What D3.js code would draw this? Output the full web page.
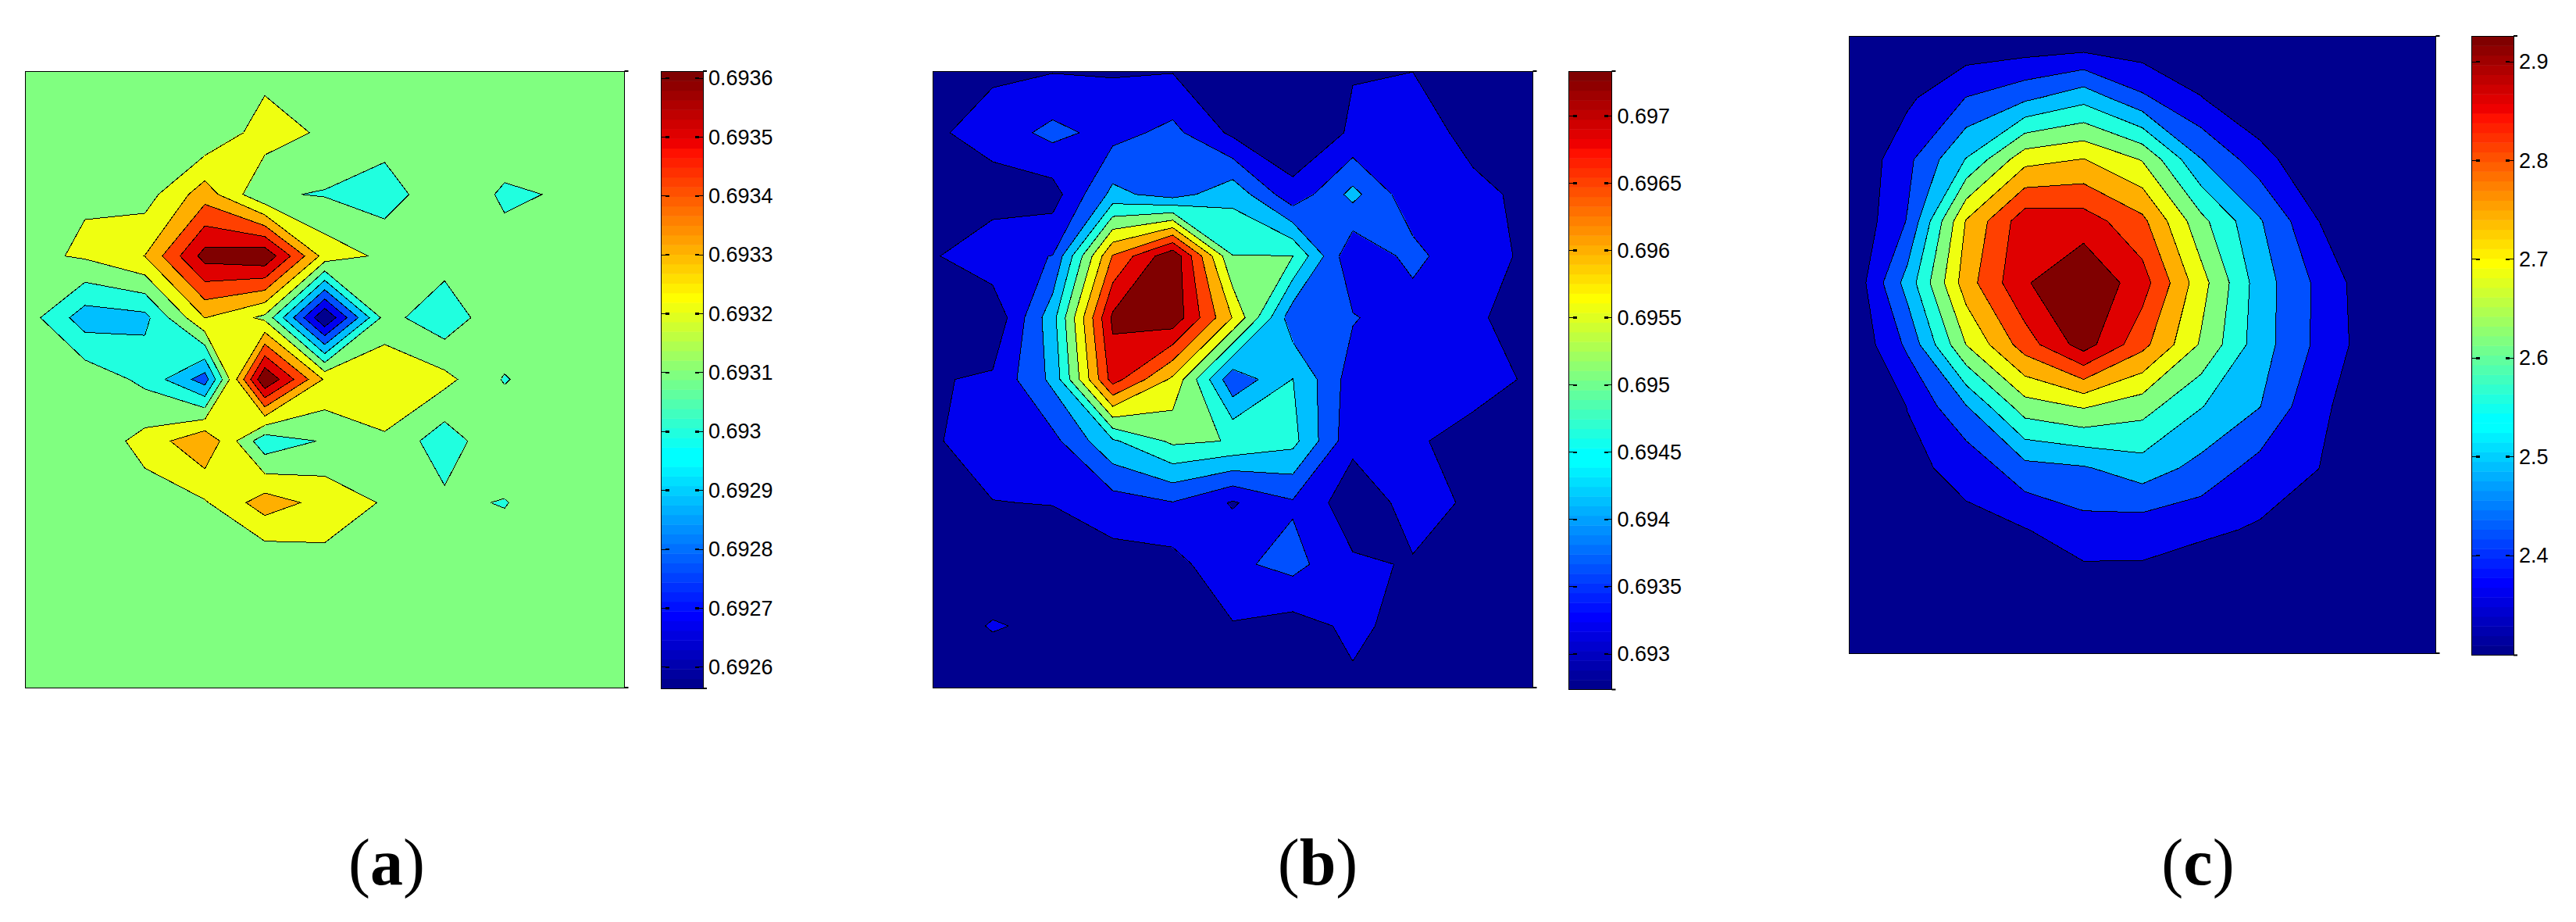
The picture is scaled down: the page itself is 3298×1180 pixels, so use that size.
<!DOCTYPE html>
<html>
<head>
<meta charset="utf-8">
<title>contour panels</title>
<script src="https://cdn.jsdelivr.net/npm/d3@7"></script>
<style>
  body { margin: 0; background: #fff; }
</style>
</head>
<body>
<div id="dataviz"></div>
<script>
// panel (a)
const aValues = [
  [0.69314, 0.69314, 0.69314, 0.69315, 0.693167, 0.69315, 0.69314, 0.69314, 0.69314, 0.69314, 0.69314],
  [0.69314, 0.69315, 0.69314, 0.69311, 0.69325, 0.693183, 0.693147, 0.69314, 0.693164, 0.69314, 0.69314],
  [0.69316, 0.693191, 0.693155, 0.693354, 0.693111, 0.693093, 0.693049, 0.693175, 0.693085, 0.693109, 0.69313],
  [0.693174, 0.693213, 0.693302, 0.69364, 0.69368, 0.69326, 0.693177, 0.693147, 0.693135, 0.69314, 0.69314],
  [0.693153, 0.692947, 0.69297, 0.693302, 0.693176, 0.6926, 0.693137, 0.69303, 0.69319, 0.69315, 0.69314],
  [0.69315, 0.69317, 0.693075, 0.69285, 0.6937, 0.693287, 0.693282, 0.69323, 0.693091, 0.69319, 0.69314],
  [0.69314, 0.693128, 0.693234, 0.69339, 0.69303, 0.693111, 0.693185, 0.69304, 0.693195, 0.69315, 0.69314],
  [0.69314, 0.69314, 0.693157, 0.69319, 0.69335, 0.693267, 0.69319, 0.693123, 0.693093, 0.69319, 0.69314],
  [0.69314, 0.69314, 0.69314, 0.69316, 0.69311, 0.693164, 0.69315, 0.69314, 0.69317, 0.69314, 0.69314],
  [0.69314, 0.69314, 0.69314, 0.69314, 0.69314, 0.69314, 0.69314, 0.69314, 0.69314, 0.69314, 0.69314],
  [0.69314, 0.69314, 0.69314, 0.69314, 0.69314, 0.69314, 0.69314, 0.69314, 0.69314, 0.69314, 0.69314]
];
const aLevels = [0.6926, 0.6927, 0.6928, 0.6929, 0.693, 0.6931, 0.6932, 0.6933, 0.6934, 0.6935, 0.6936];
const aBarRange = [0.692564, 0.693612];
const aTicks = [0.6926, 0.6927, 0.6928, 0.6929, 0.693, 0.6931, 0.6932, 0.6933, 0.6934, 0.6935, 0.6936];
const aTickLabels = ["0.6926", "0.6927", "0.6928", "0.6929", "0.693", "0.6931", "0.6932", "0.6933", "0.6934", "0.6935", "0.6936"];

// panel (b)
const bValues = [
  [0.693006, 0.693112, 0.693167, 0.693153, 0.693167, 0.693052, 0.69296, 0.693172, 0.693185, 0.693052, 0.69296],
  [0.693103, 0.693402, 0.693779, 0.693489, 0.693779, 0.693093, 0.692845, 0.69325, 0.693558, 0.692955, 0.692914],
  [0.69296, 0.692951, 0.692983, 0.694239, 0.693903, 0.694432, 0.693328, 0.694248, 0.693328, 0.693374, 0.693006],
  [0.693139, 0.693535, 0.693659, 0.696442, 0.697698, 0.695039, 0.695039, 0.693236, 0.693806, 0.693236, 0.693167],
  [0.693098, 0.692799, 0.694395, 0.697422, 0.697652, 0.695927, 0.693802, 0.693687, 0.693374, 0.693259, 0.692992],
  [0.693149, 0.693259, 0.694225, 0.697077, 0.695858, 0.693756, 0.694579, 0.69342, 0.693466, 0.693466, 0.693093],
  [0.693149, 0.693374, 0.693512, 0.694501, 0.695122, 0.695007, 0.694717, 0.693305, 0.693282, 0.692942, 0.692914],
  [0.693006, 0.693181, 0.693204, 0.693443, 0.693632, 0.693144, 0.693595, 0.692914, 0.693351, 0.693126, 0.69296],
  [0.69296, 0.692942, 0.692914, 0.693006, 0.69302, 0.693553, 0.693802, 0.693259, 0.693158, 0.693052, 0.69296],
  [0.692988, 0.693218, 0.693112, 0.692868, 0.692914, 0.693158, 0.693006, 0.693282, 0.693034, 0.69296, 0.692914],
  [0.692914, 0.692942, 0.692914, 0.692868, 0.692868, 0.692868, 0.692914, 0.693121, 0.69296, 0.692914, 0.692868]
];
const bLevels = [0.69273, 0.69319, 0.69365, 0.69411, 0.69457, 0.69503, 0.69549, 0.69595, 0.69641, 0.69687, 0.69733];
const bBarRange = [0.692736, 0.697334];
const bTicks = [0.693, 0.6935, 0.694, 0.6945, 0.695, 0.6955, 0.696, 0.6965, 0.697];
const bTickLabels = ["0.693", "0.6935", "0.694", "0.6945", "0.695", "0.6955", "0.696", "0.6965", "0.697"];

// panel (c)
const cValues = [
  [2.3, 2.3, 2.305, 2.3031, 2.3031, 2.3063, 2.3063, 2.3, 2.3, 2.3, 2.3],
  [2.3, 2.3494, 2.4263, 2.4731, 2.5269, 2.4356, 2.3644, 2.3013, 2.3, 2.3, 2.3],
  [2.3, 2.4094, 2.5531, 2.7156, 2.7394, 2.6706, 2.4894, 2.3906, 2.3013, 2.3, 2.3],
  [2.3, 2.4288, 2.7425, 2.9, 2.8938, 2.8163, 2.6313, 2.4938, 2.3631, 2.3063, 2.3],
  [2.3013, 2.5125, 2.7719, 2.9188, 2.9813, 2.8906, 2.7, 2.5188, 2.4106, 2.3106, 2.3],
  [2.3, 2.4375, 2.6763, 2.8313, 2.9544, 2.82, 2.6675, 2.5156, 2.4106, 2.3188, 2.3063],
  [2.3, 2.3638, 2.4844, 2.6469, 2.6813, 2.6388, 2.5531, 2.4894, 2.3719, 2.3313, 2.3031],
  [2.3, 2.35, 2.3781, 2.4656, 2.4813, 2.5219, 2.4669, 2.4013, 2.3631, 2.3125, 2.3],
  [2.3, 2.3063, 2.3488, 2.3594, 2.4, 2.3875, 2.3756, 2.355, 2.3313, 2.3, 2.3],
  [2.3, 2.3, 2.3156, 2.3188, 2.3263, 2.3375, 2.3063, 2.3, 2.3, 2.3, 2.3],
  [2.3, 2.3, 2.3063, 2.3094, 2.3125, 2.3188, 2.3031, 2.3, 2.3, 2.3, 2.3]
];
const cLevels = [2.3, 2.3625, 2.425, 2.4875, 2.55, 2.6125, 2.675, 2.7375, 2.8, 2.8625, 2.925];
const cBarRange = [2.2991, 2.9263];
const cTicks = [2.4, 2.5, 2.6, 2.7, 2.8, 2.9];
const cTickLabels = ["2.4", "2.5", "2.6", "2.7", "2.8", "2.9"];

const captions = ["a", "b", "c"];

// which row of the 64 colour map each contour band takes
const bandRows = [0, 6, 12, 19, 26, 32, 39, 45, 52, 57, 63];

// matlab jet(64), i is 0 based
function jet(i) {
  const clamp = d3.scaleLinear().domain([0, 1]).range([0, 255]).clamp(true);
  let r = i < 56 ? (i - 24) / 16 : (71 - i) / 16;
  let g = i < 24 ? (i - 7) / 16 : (56 - i) / 16;
  let b = i < 25 ? (i + 9) / 16 : (40 - i) / 16;
  return d3.rgb(clamp(r), clamp(g), clamp(b)).formatHex();
}

// saddle cells whose mean is over the level: d3.contours cuts the two high corners off,
// the reference keeps them joined. Returns the crossing points of each such cell.
function joinedSaddles(values, level) {
  let out = [];
  for (let r = 0; r < values.length - 1; r++) {
    for (let c = 0; c < values[r].length - 1; c++) {
      let tl = values[r][c], tr = values[r][c + 1], bl = values[r + 1][c], br = values[r + 1][c + 1];
      let a = tl >= level, b = tr >= level, e = bl >= level, f = br >= level;
      if (a !== f || b !== e || a === b) continue;
      if ((tl + tr + bl + br) / 4 < level) continue;
      let top = [c + (level - tl) / (tr - tl), r];
      let bottom = [c + (level - bl) / (br - bl), r + 1];
      let left = [c, r + (level - tl) / (bl - tl)];
      let right = [c + 1, r + (level - tr) / (br - tr)];
      out.push({
        quad: [top, right, bottom, left],
        edges: a ? [[top, right], [bottom, left]] : [[top, left], [bottom, right]]
      });
    }
  }
  return out;
}

const svg = d3.select("#dataviz").append("svg").attr("width", 3298).attr("height", 1180)
  .style("display", "block");

function drawPanel(id, box, bar, values, levels, barRange, ticks, tickLabels) {
  let x = d3.scaleLinear().domain([0.5, 10.5]).range([box.x0, box.x1]);
  let y = d3.scaleLinear().domain([0.5, 10.5]).range([box.y0, box.y1]);

  svg.append("clipPath").attr("id", "clip" + id).append("rect")
    .attr("x", box.x0).attr("y", box.y0)
    .attr("width", box.x1 - box.x0).attr("height", box.y1 - box.y0);

  let g = svg.append("g");
  let plot = g.append("g").attr("clip-path", "url(#clip" + id + ")");

  let contours = d3.contours().size([11, 11]).thresholds(levels)(values.flat());
  let path = d3.geoPath(d3.geoTransform({
    point: function (px, py) { this.stream.point(x(px), y(py)); }
  }));
  // saddle points are in node units, contour rings sit half a cell over
  let nodeLine = d3.line()
    .x(function (d) { return x(d[0] + 0.5); })
    .y(function (d) { return y(d[1] + 0.5); });

  plot.append("rect")
    .attr("x", box.x0).attr("y", box.y0)
    .attr("width", box.x1 - box.x0).attr("height", box.y1 - box.y0)
    .attr("fill", jet(bandRows[0]));

  contours.forEach(function (contour, i) {
    let colour = jet(bandRows[i]);
    plot.append("path")
      .attr("d", path(contour))
      .attr("fill", colour)
      .attr("stroke", "#000")
      .attr("stroke-width", 1)
      .attr("shape-rendering", "crispEdges");

    joinedSaddles(values, levels[i]).forEach(function (s) {
      plot.append("path")
        .attr("d", nodeLine(s.quad) + "Z")
        .attr("fill", colour)
        .attr("stroke", colour)
        .attr("stroke-width", 2)
        .attr("shape-rendering", "crispEdges");
      s.edges.forEach(function (e) {
        plot.append("path")
          .attr("d", nodeLine(e))
          .attr("fill", "none")
          .attr("stroke", "#000")
          .attr("stroke-width", 1)
          .attr("shape-rendering", "crispEdges");
      });
    });
  });

  // frame and the little corner ticks matlab leaves on an axes with no labels
  g.append("rect")
    .attr("x", box.x0).attr("y", box.y0)
    .attr("width", box.x1 - box.x0).attr("height", box.y1 - box.y0)
    .attr("fill", "none").attr("stroke", "#000").attr("shape-rendering", "crispEdges");
  [box.y0, box.y1].forEach(function (cy) {
    g.append("line").attr("x1", box.x1).attr("x2", box.x1 + 5).attr("y1", cy).attr("y2", cy)
      .attr("stroke", "#000").attr("stroke-width", 2);
  });

  // colour bar
  let rows = d3.range(64);
  let barBand = d3.scaleBand().domain(rows).range([bar.y1, bar.y0]);
  g.selectAll(".cell").data(rows).join("rect")
    .attr("class", "cell")
    .attr("x", bar.x0)
    .attr("y", function (d) { return barBand(d); })
    .attr("width", bar.x1 - bar.x0)
    .attr("height", barBand.bandwidth() + 0.5)
    .attr("fill", function (d) { return jet(d); });

  g.append("rect")
    .attr("x", bar.x0).attr("y", bar.y0)
    .attr("width", bar.x1 - bar.x0).attr("height", bar.y1 - bar.y0)
    .attr("fill", "none").attr("stroke", "#000").attr("shape-rendering", "crispEdges");

  let barScale = d3.scaleLinear().domain(barRange).range([bar.y1, bar.y0]);
  let axis = d3.axisRight(barScale)
    .tickValues(ticks)
    .tickSize(0)
    .tickPadding(7)
    .tickFormat(function (d, i) { return tickLabels[i]; });
  let axisG = g.append("g").attr("transform", "translate(" + bar.x1 + ",0)").call(axis);
  axisG.select(".domain").remove();
  axisG.selectAll("text")
    .attr("font-family", "'Liberation Sans', Arial, sans-serif")
    .attr("font-size", 27)
    .attr("fill", "#000");

  // ticks sit inside the bar on both sides, thin then thick
  ticks.forEach(function (t) {
    let ty = barScale(t);
    [[bar.x0, 1], [bar.x1, -1]].forEach(function (s) {
      g.append("line").attr("x1", s[0]).attr("x2", s[0] + s[1] * 10).attr("y1", ty).attr("y2", ty)
        .attr("stroke", "#000").attr("shape-rendering", "crispEdges");
      g.append("line").attr("x1", s[0] + s[1] * 5).attr("x2", s[0] + s[1] * 10).attr("y1", ty).attr("y2", ty)
        .attr("stroke", "#000").attr("stroke-width", 2.5).attr("shape-rendering", "crispEdges");
    });
  });
  [bar.y0, bar.y1].forEach(function (cy) {
    g.append("line").attr("x1", bar.x1).attr("x2", bar.x1 + 5).attr("y1", cy).attr("y2", cy)
      .attr("stroke", "#000").attr("stroke-width", 2);
  });
}

drawPanel("a", { x0: 32, x1: 799.5, y0: 91, y1: 880 }, { x0: 846.5, x1: 900, y0: 91, y1: 881 },
  aValues, aLevels, aBarRange, aTicks, aTickLabels);
drawPanel("b", { x0: 1194, x1: 1962.5, y0: 91, y1: 880 }, { x0: 2008.5, x1: 2063.5, y0: 91, y1: 882.5 },
  bValues, bLevels, bBarRange, bTicks, bTickLabels);
drawPanel("c", { x0: 2367, x1: 3118.5, y0: 46, y1: 836 }, { x0: 3164.5, x1: 3218, y0: 46, y1: 838.5 },
  cValues, cLevels, cBarRange, cTicks, cTickLabels);

// captions
const captionX = { a: 495, b: 1687, c: 2814 };
captions.forEach(function (c) {
  let t = svg.append("text")
    .attr("x", captionX[c]).attr("y", 1132)
    .attr("text-anchor", "middle")
    .attr("font-family", "'Liberation Serif', 'Times New Roman', serif")
    .attr("font-size", 84)
    .attr("fill", "#000");
  t.append("tspan").text("(");
  t.append("tspan").attr("font-weight", "bold").text(c);
  t.append("tspan").text(")");
});
</script>
</body>
</html>
